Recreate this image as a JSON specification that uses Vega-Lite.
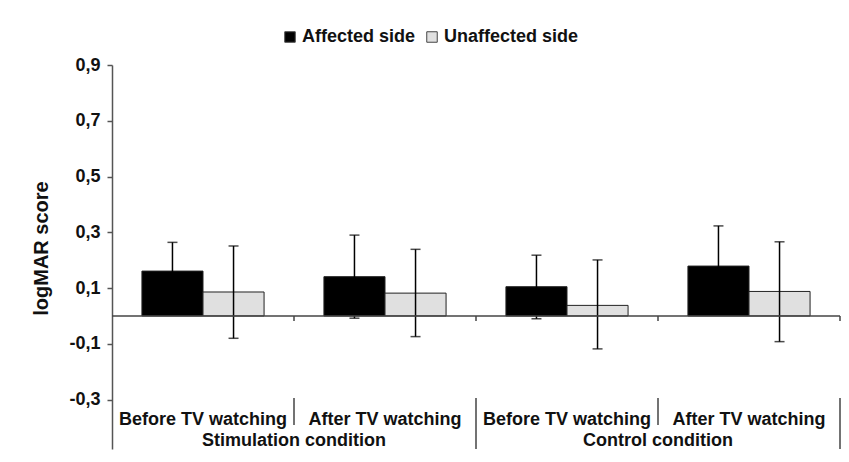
{
  "$schema": "https://vega.github.io/schema/vega-lite/v6.json",
  "width": 728,
  "height": 384,
  "autosize": "none",
  "padding": {"left": 112, "top": 65, "right": 9, "bottom": 13},
  "background": "white",
  "config": {
    "view": {"stroke": null},
    "font": "Liberation Sans",
    "axisY": {
      "grid": false, "tickSize": 5, "domainColor": "#555", "tickColor": "#555",
      "domainWidth": 1.5, "tickWidth": 1.5,
      "labelFontSize": 18, "labelFontWeight": "bold", "labelColor": "#111", "labelPadding": 7,
      "titleFontSize": 20, "titleFontWeight": "bold", "titleColor": "#111", "titlePadding": 17, "titleY": 183
    }
  },
  "datasets": {
    "bars": [
      {"slot": "S1", "side": "Affected side", "mean": 0.161, "lo": 0.058, "hi": 0.264},
      {"slot": "S1", "side": "Unaffected side", "mean": 0.086, "lo": -0.080, "hi": 0.251},
      {"slot": "S2", "side": "Affected side", "mean": 0.141, "lo": -0.008, "hi": 0.290},
      {"slot": "S2", "side": "Unaffected side", "mean": 0.082, "lo": -0.074, "hi": 0.239},
      {"slot": "C1", "side": "Affected side", "mean": 0.105, "lo": -0.010, "hi": 0.218},
      {"slot": "C1", "side": "Unaffected side", "mean": 0.038, "lo": -0.118, "hi": 0.201},
      {"slot": "C2", "side": "Affected side", "mean": 0.179, "lo": 0.035, "hi": 0.323},
      {"slot": "C2", "side": "Unaffected side", "mean": 0.088, "lo": -0.092, "hi": 0.266}
    ],
    "groups": [
      {"slot": "S1", "label": "Before TV watching", "sep": "short"},
      {"slot": "S2", "label": "After TV watching", "sep": "long"},
      {"slot": "C1", "label": "Before TV watching", "sep": "short"},
      {"slot": "C2", "label": "After TV watching", "sep": "long"}
    ],
    "conds": [
      {"slot": "S2", "label": "Stimulation condition"},
      {"slot": "C2", "label": "Control condition"}
    ]
  },
  "layer": [
    {
      "data": {"name": "bars"},
      "mark": {"type": "bar", "stroke": "#222", "strokeWidth": 1},
      "encoding": {
        "x": {"field": "slot", "type": "nominal", "scale": {"domain": ["S1", "S2", "C1", "C2"], "paddingInner": 0, "paddingOuter": 0}, "axis": null},
        "xOffset": {"field": "side", "type": "nominal", "scale": {"domain": ["Affected side", "Unaffected side"], "paddingInner": 0, "paddingOuter": 0.49}},
        "y": {
          "field": "mean", "type": "quantitative", "title": "logMAR score",
          "scale": {"domain": [-0.477, 0.9], "nice": false, "zero": false},
          "axis": {
            "values": [-0.3, -0.1, 0.1, 0.3, 0.5, 0.7, 0.9],
            "labelExpr": "replace(replace(format(datum.value, '.1f'), '.', ','), '\u2212', '-')"
          }
        },
        "fill": {
          "field": "side", "type": "nominal",
          "scale": {"domain": ["Affected side", "Unaffected side"], "range": ["#000000", "#e0e0e0"]},
          "legend": {
            "title": null, "orient": "none", "direction": "horizontal", "legendX": 169, "legendY": -37,
            "symbolType": "square", "symbolSize": 110, "symbolStrokeColor": "#444", "symbolStrokeWidth": 1,
            "labelFontSize": 18, "labelFontWeight": "bold", "labelColor": "#111", "labelOffset": 3, "columnPadding": 7
          }
        }
      }
    },
    {
      "data": {"name": "bars"},
      "mark": {"type": "rule", "color": "#000", "strokeWidth": 1.5},
      "encoding": {
        "x": {"field": "slot", "type": "nominal", "axis": null},
        "xOffset": {"field": "side", "type": "nominal"},
        "y": {"field": "lo", "type": "quantitative", "title": "logMAR score"},
        "y2": {"field": "hi"}
      }
    },
    {
      "data": {"name": "bars"},
      "mark": {"type": "tick", "color": "#000", "thickness": 1.5, "size": 10},
      "encoding": {
        "x": {"field": "slot", "type": "nominal", "axis": null},
        "xOffset": {"field": "side", "type": "nominal"},
        "y": {"field": "hi", "type": "quantitative", "title": "logMAR score"}
      }
    },
    {
      "data": {"name": "bars"},
      "mark": {"type": "tick", "color": "#000", "thickness": 1.5, "size": 10},
      "encoding": {
        "x": {"field": "slot", "type": "nominal", "axis": null},
        "xOffset": {"field": "side", "type": "nominal"},
        "y": {"field": "lo", "type": "quantitative", "title": "logMAR score"}
      }
    },
    {
      "data": {"values": [{}]},
      "mark": {"type": "rule", "color": "#444", "strokeWidth": 1.5},
      "encoding": {"y": {"datum": 0, "type": "quantitative", "title": "logMAR score"}}
    },
    {
      "data": {"name": "groups"},
      "mark": {"type": "rule", "color": "#444", "strokeWidth": 1.5},
      "encoding": {
        "x": {"field": "slot", "type": "nominal", "bandPosition": 1, "axis": null},
        "y": {"datum": 0, "type": "quantitative", "title": "logMAR score"},
        "y2": {"datum": -0.018}
      }
    },
    {
      "data": {"name": "groups"},
      "transform": [{"filter": "datum.sep === 'short'"}],
      "mark": {"type": "rule", "color": "#444", "strokeWidth": 1.5},
      "encoding": {
        "x": {"field": "slot", "type": "nominal", "bandPosition": 1, "axis": null},
        "y": {"datum": -0.294, "type": "quantitative", "title": "logMAR score"},
        "y2": {"datum": -0.391}
      }
    },
    {
      "data": {"name": "groups"},
      "transform": [{"filter": "datum.sep === 'long'"}],
      "mark": {"type": "rule", "color": "#444", "strokeWidth": 1.5},
      "encoding": {
        "x": {"field": "slot", "type": "nominal", "bandPosition": 1, "axis": null},
        "y": {"datum": -0.294, "type": "quantitative", "title": "logMAR score"},
        "y2": {"datum": -0.477}
      }
    },
    {
      "data": {"name": "groups"},
      "mark": {"type": "text", "fontSize": 18, "fontWeight": "bold", "color": "#111", "baseline": "middle"},
      "encoding": {
        "x": {"field": "slot", "type": "nominal", "bandPosition": 0.5, "axis": null},
        "y": {"datum": -0.373, "type": "quantitative", "title": "logMAR score"},
        "text": {"field": "label"}
      }
    },
    {
      "data": {"name": "conds"},
      "mark": {"type": "text", "fontSize": 18, "fontWeight": "bold", "color": "#111", "baseline": "middle"},
      "encoding": {
        "x": {"field": "slot", "type": "nominal", "bandPosition": 0, "axis": null},
        "y": {"datum": -0.448, "type": "quantitative", "title": "logMAR score"},
        "text": {"field": "label"}
      }
    }
  ]
}
